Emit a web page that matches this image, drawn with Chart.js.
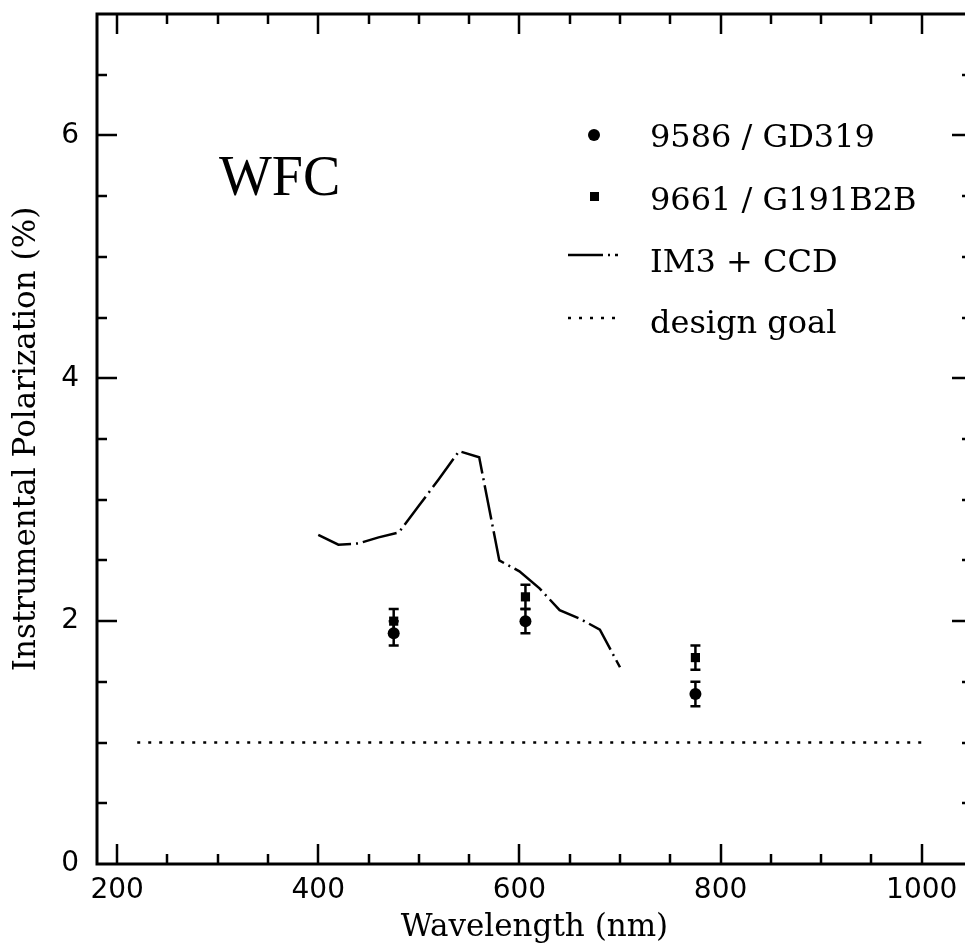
<!DOCTYPE html>
<html>
<head>
<meta charset="utf-8">
<script src="https://cdn.jsdelivr.net/npm/chart.js@4.4.0/dist/chart.umd.min.js"></script>
<style>
  html, body { margin: 0; padding: 0; background: #fff; overflow: hidden; }
  #wrap { width: 965px; height: 947px; overflow: hidden; }
</style>
</head>
<body>
<div id="wrap"><canvas id="chartPol" width="980" height="947"></canvas></div>
<script>
// ---- data ----
const gdWave = [475, 606, 775];          // 9586 / GD319 (circles)
const gdPol  = [1.9, 2.0, 1.4];
const gdErr  = [0.1, 0.1, 0.1];

const g191Wave = [475, 606, 775];        // 9661 / G191B2B (squares)
const g191Pol  = [2.0, 2.2, 1.7];
const g191Err  = [0.1, 0.1, 0.1];

const modelWave = [400, 420, 440, 460, 480, 500, 520, 540, 560, 580, 600, 620, 640, 660, 680, 700];
const modelPol  = [2.71, 2.63, 2.64, 2.69, 2.73, 2.95, 3.17, 3.40, 3.35, 2.50, 2.41, 2.27, 2.09, 2.02, 1.93, 1.62];

const goalWave = [220, 1000];
const goalPol  = [1, 1];

const xMajor = [200, 400, 600, 800, 1000];
const yMajor = [0, 2, 4, 6];

const INK = '#000';
const SERIF = 'DejaVu Serif';
const LINE_DASH = [35, 5, 2, 5];
const DOT_DASH = [3, 8];

const pts = (xs, ys) => xs.map((x, i) => ({ x, y: ys[i] }));

// frame with inward ticks on all four sides
const framePlugin = {
  id: 'frame',
  afterDatasetsDraw(chart) {
    const { ctx, chartArea: a, scales: { x, y } } = chart;
    ctx.save();
    ctx.strokeStyle = INK;
    ctx.lineCap = 'butt';
    ctx.lineWidth = 2.5;
    ctx.beginPath();
    for (let v = 200; v <= 1000; v += 50) {
      const px = Math.round(x.getPixelForValue(v));
      const len = v % 200 === 0 ? 20 : 10;
      ctx.moveTo(px, a.bottom); ctx.lineTo(px, a.bottom - len);
      ctx.moveTo(px, a.top); ctx.lineTo(px, a.top + len);
    }
    for (let v = 0.5; v < 7; v += 0.5) {
      const py = Math.round(y.getPixelForValue(v));
      const len = v % 2 === 0 ? 20 : 10;
      ctx.moveTo(a.left, py); ctx.lineTo(a.left + len, py);
      ctx.moveTo(a.right, py); ctx.lineTo(a.right - len, py);
    }
    ctx.stroke();
    ctx.lineWidth = 3;
    ctx.strokeRect(a.left, a.top, a.right - a.left, a.bottom - a.top);
    ctx.restore();
  }
};

// vertical error bars from the dataset's errors array
const errorBarPlugin = {
  id: 'errorBars',
  afterDatasetsDraw(chart) {
    const { ctx, scales: { y } } = chart;
    ctx.save();
    ctx.strokeStyle = INK;
    ctx.lineWidth = 2.5;
    chart.data.datasets.forEach((ds, i) => {
      if (!ds.errors) return;
      chart.getDatasetMeta(i).data.forEach((el, j) => {
        const v = ds.data[j].y, e = ds.errors[j];
        const top = y.getPixelForValue(v + e), bot = y.getPixelForValue(v - e);
        ctx.beginPath();
        ctx.moveTo(el.x, top); ctx.lineTo(el.x, bot);
        ctx.moveTo(el.x - 5, top); ctx.lineTo(el.x + 5, top);
        ctx.moveTo(el.x - 5, bot); ctx.lineTo(el.x + 5, bot);
        ctx.stroke();
      });
    });
    ctx.restore();
  }
};

// in-plot legend and WFC label
const legendPlugin = {
  id: 'plotLegend',
  afterDraw(chart) {
    const { ctx } = chart;
    ctx.save();
    ctx.fillStyle = INK;
    ctx.strokeStyle = INK;
    ctx.textBaseline = 'alphabetic';
    ctx.font = '56px "Liberation Serif"';
    ctx.fillText('WFC', 219, 195);

    ctx.font = '32px "' + SERIF + '"';
    // circle
    ctx.beginPath(); ctx.arc(594, 135, 6, 0, Math.PI * 2); ctx.fill();
    ctx.fillText('9586 / GD319', 650, 147);
    // square
    ctx.fillRect(590, 192, 9, 9);
    ctx.fillText('9661 / G191B2B', 650, 210);
    // dash-dot
    ctx.lineWidth = 2.5;
    ctx.setLineDash(LINE_DASH);
    ctx.beginPath(); ctx.moveTo(568, 255); ctx.lineTo(618, 255); ctx.stroke();
    ctx.fillText('IM3 + CCD', 650, 272);
    // dotted
    ctx.setLineDash(DOT_DASH);
    ctx.beginPath(); ctx.moveTo(568, 318); ctx.lineTo(618, 318); ctx.stroke();
    ctx.setLineDash([]);
    ctx.fillText('design goal', 650, 333);
    ctx.restore();
  }
};

function noEdgePadding(s) {
  s.paddingTop = 0; s.paddingBottom = 0; s.paddingLeft = 0; s.paddingRight = 0;
}

new Chart(document.getElementById('chartPol'), {
  type: 'scatter',
  data: {
    datasets: [
      { label: 'design goal', type: 'line', data: pts(goalWave, goalPol), borderColor: INK, borderWidth: 2.5,
        borderDash: DOT_DASH, pointRadius: 0, fill: false },
      { label: 'IM3 + CCD', type: 'line', data: pts(modelWave, modelPol), borderColor: INK, borderWidth: 2.5,
        borderDash: LINE_DASH, pointRadius: 0, tension: 0, fill: false },
      { label: '9586 / GD319', data: pts(gdWave, gdPol), errors: gdErr, pointStyle: 'circle', pointRadius: 6,
        backgroundColor: INK, borderColor: INK, borderWidth: 0 },
      { label: '9661 / G191B2B', data: pts(g191Wave, g191Pol), errors: g191Err, pointStyle: 'rect', pointRadius: 6.5,
        backgroundColor: INK, borderColor: INK, borderWidth: 0 }
    ]
  },
  options: {
    responsive: false,
    animation: false,
    devicePixelRatio: 1,
    layout: { padding: { left: 0, top: 14, right: 8, bottom: 0 } },
    plugins: { legend: { display: false }, tooltip: { enabled: false } },
    scales: {
      x: {
        type: 'linear', min: 180, max: 1050,
        afterBuildTicks: s => { s.ticks = xMajor.map(v => ({ value: v })); },
        afterFit: s => { s.height = 83; noEdgePadding(s); },
        grid: { display: false, drawTicks: false },
        border: { display: false },
        ticks: { color: INK, font: { family: 'DejaVu Sans', size: 28 }, padding: 10, maxRotation: 0, autoSkip: false,
                 callback: v => String(v) },
        title: { display: true, text: 'Wavelength (nm)', color: INK, font: { family: SERIF, size: 31 },
                 padding: { top: 0, bottom: 0 } }
      },
      y: {
        type: 'linear', min: 0, max: 7,
        afterBuildTicks: s => { s.ticks = yMajor.map(v => ({ value: v })); },
        afterFit: s => { s.width = 97; noEdgePadding(s); },
        grid: { display: false, drawTicks: false },
        border: { display: false },
        ticks: { color: INK, font: { family: 'DejaVu Sans', size: 28 }, padding: 18, callback: v => String(v) },
        title: { display: true, text: 'Instrumental Polarization (%)', color: INK, font: { family: SERIF, size: 31 },
                 padding: { top: 8, bottom: 0 } }
      }
    }
  },
  plugins: [framePlugin, errorBarPlugin, legendPlugin]
});
</script>
</body>
</html>
